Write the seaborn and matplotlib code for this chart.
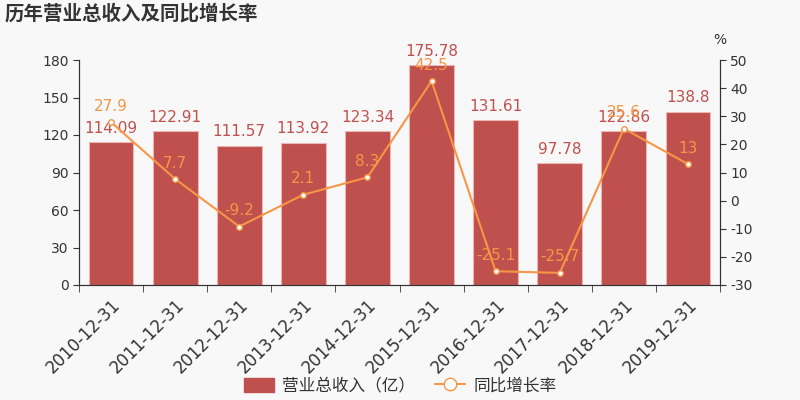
import matplotlib
matplotlib.use("Agg")
import matplotlib.pyplot as plt
import seaborn as sns
import numpy as np
import pandas as pd
from matplotlib.lines import Line2D
from matplotlib.patches import Patch

categories = ["2010-12-31", "2011-12-31", "2012-12-31", "2013-12-31", "2014-12-31",
              "2015-12-31", "2016-12-31", "2017-12-31", "2018-12-31", "2019-12-31"]
revenue = [114.09, 122.91, 111.57, 113.92, 123.34, 175.78, 131.61, 97.78, 122.86, 138.8]
growth = [27.9, 7.7, -9.2, 2.1, 8.3, 42.5, -25.1, -25.7, 25.6, 13]
revenue_labels = ["114.09", "122.91", "111.57", "113.92", "123.34", "175.78", "131.61", "97.78", "122.86", "138.8"]
growth_labels = ["27.9", "7.7", "-9.2", "2.1", "8.3", "42.5", "-25.1", "-25.7", "25.6", "13"]

sns.set_style("ticks")
plt.rcParams['font.family'] = ['DejaVu Sans', 'Noto Sans CJK SC']
plt.rcParams['axes.unicode_minus'] = False

BG = "#f8f8f8"
BAR = "#c0504d"
LINE = "#f79646"
TXT = "#333333"

fig = plt.figure(figsize=(8, 4), dpi=100, facecolor=BG)
ax = fig.add_axes([0.09875, 0.2875, 0.80125, 0.5625])
ax.set_facecolor(BG)

df = pd.DataFrame({"cat": categories, "rev": revenue})
sns.barplot(data=df, x="cat", y="rev", ax=ax, color=BAR, saturation=1, width=0.7,
            edgecolor="#e8b8b6", linewidth=0.8)
ax.set_xlim(-0.5, len(categories) - 0.5)
ax.set_ylim(0, 180)
ax.set_yticks(np.arange(0, 181, 30))
ax.set_xlabel("")
ax.set_ylabel("")
for i, (v, lab) in enumerate(zip(revenue, revenue_labels)):
    ax.text(i, v + 5, lab, ha="center", va="bottom", color=BAR, fontsize=11)

ax.set_xticks(np.arange(len(categories)))
ax.set_xticklabels(categories, rotation=45, ha="right", rotation_mode="anchor", fontsize=12, color=TXT)
ax.tick_params(axis="x", length=0, pad=8)
ax.set_xticks(np.arange(len(categories) + 1) - 0.5, minor=True)
ax.tick_params(axis="x", which="minor", length=5, color=TXT)
ax.tick_params(axis="y", labelsize=10, colors=TXT, length=4)

ax2 = ax.twinx()
ax2.set_ylim(-30, 50)
ax2.set_yticks(np.arange(-30, 51, 10))
sns.lineplot(x=np.arange(len(categories)), y=growth, ax=ax2, color=LINE, linewidth=1.5,
             marker="o", markersize=4, markerfacecolor="white", markeredgecolor=LINE,
             markeredgewidth=1)
for i, (v, lab) in enumerate(zip(growth, growth_labels)):
    ax2.text(i, v + 3, lab, ha="center", va="bottom", color=LINE, fontsize=11)
ax2.tick_params(axis="y", labelsize=10, colors=TXT, length=4)
ax2.set_ylabel("")
ax2.text(1.0, 1.06, "%", transform=ax2.transAxes, ha="center", va="bottom", fontsize=10, color=TXT)

for a in (ax, ax2):
    a.spines["top"].set_visible(False)
    a.spines["left"].set_color(TXT)
    a.spines["right"].set_color(TXT)
    a.spines["bottom"].set_color(TXT)

fig.text(0.006, 0.965, "历年营业总收入及同比增长率", fontsize=14, fontweight="bold",
         color="#333333", ha="left", va="center", family=["Noto Sans CJK SC", "DejaVu Sans"])

handles = [Patch(facecolor=BAR, edgecolor=BAR),
           Line2D([0], [0], color=LINE, marker="o", markersize=9, markerfacecolor="white",
                  markeredgecolor=LINE, linewidth=1.5)]
leg = fig.legend(handles, ["营业总收入（亿）", "同比增长率"], loc="center", bbox_to_anchor=(0.5, 0.035),
                 ncol=2, frameon=False, prop={"family": ["Noto Sans CJK SC", "DejaVu Sans"], "size": 12},
                 handlelength=1.8, handleheight=0.9, columnspacing=1.2, handletextpad=0.5)
for t in leg.get_texts():
    t.set_color(TXT)

fig.savefig("out.png", dpi=100, facecolor=BG)
